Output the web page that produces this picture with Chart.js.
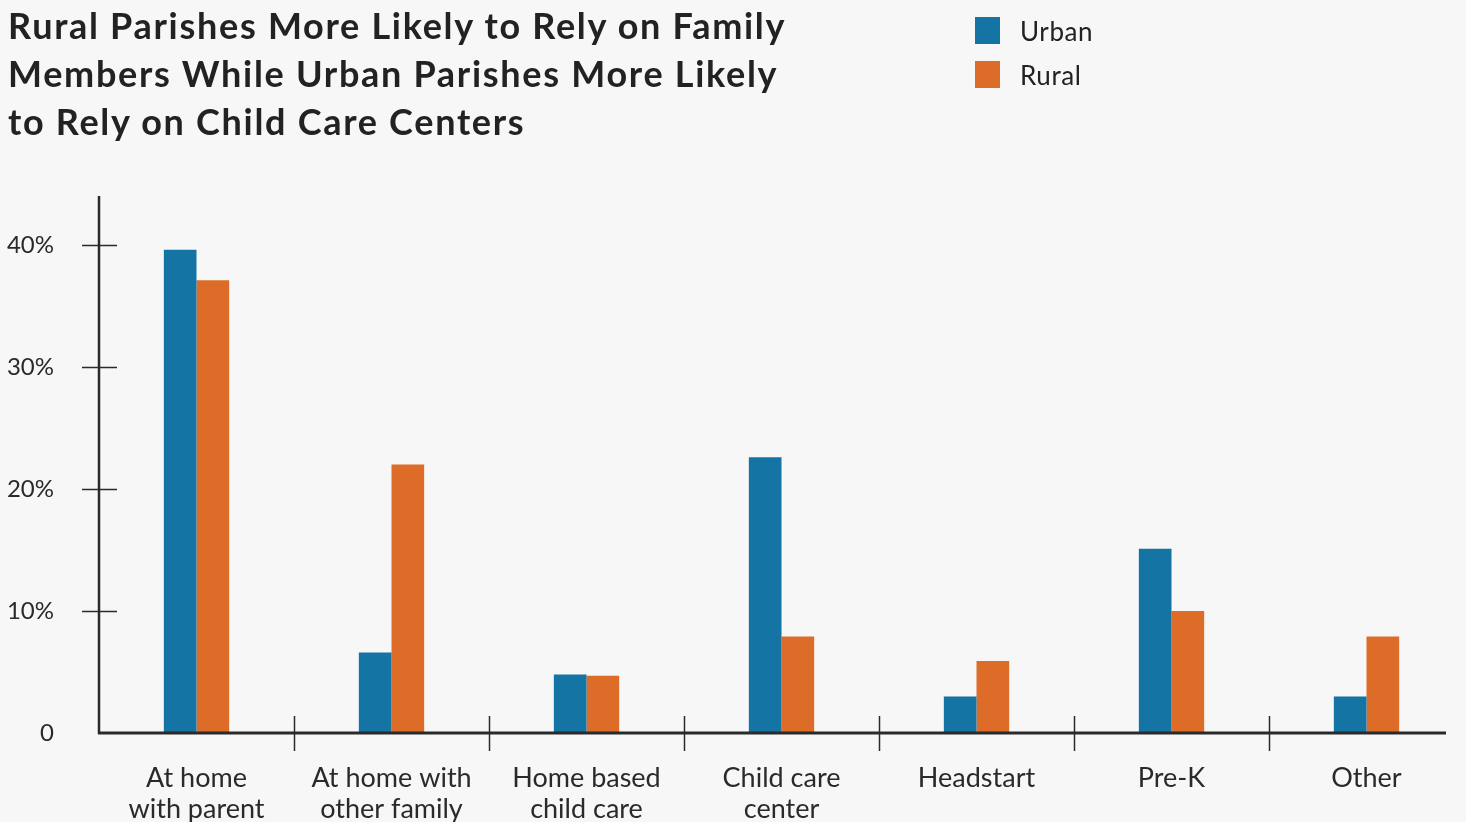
<!DOCTYPE html>
<html>
<head>
<meta charset="utf-8">
<script src="https://cdn.jsdelivr.net/npm/chart.js@4.4.1/dist/chart.umd.min.js"></script>
<style>
  html, body { margin:0; padding:0; background:#f7f7f7; width:1466px; height:822px; overflow:hidden; }
  #wrap { position:relative; width:1466px; height:822px; overflow:hidden; }
  #title { position:absolute; left:8px; top:1px; font-family:Lato, sans-serif; font-weight:700; font-size:36px; letter-spacing:1.7px; line-height:48px; color:#222; white-space:nowrap; }
  #legend { position:absolute; left:975px; top:17px; font-family:Lato, sans-serif; font-size:26px; letter-spacing:0.6px; color:#222; }
  .li { display:flex; align-items:center; height:27px; margin-bottom:17px; }
  .sw { width:25px; height:27px; margin-right:20px; }
  canvas { position:absolute; left:0; top:0; }
</style>
</head>
<body>
<div id="wrap">
  <canvas id="c" width="1466" height="822"></canvas>
  <div id="title">Rural Parishes More Likely to Rely on Family<br>Members While Urban Parishes More Likely<br>to Rely on Child Care Centers</div>
  <div id="legend"></div>
</div>
<script>
const categories = [
  ["At home", "with parent"],
  ["At home with", "other family"],
  ["Home based", "child care"],
  ["Child care", "center"],
  ["Headstart"],
  ["Pre-K"],
  ["Other"]
];
const urbanValues = [39.6, 6.6, 4.8, 22.6, 3.0, 15.1, 3.0];
const ruralValues = [37.1, 22.0, 4.7, 7.9, 5.9, 10.0, 7.9];
const seriesNames = ["Urban", "Rural"];
const seriesColors = ["#1474a3", "#dc6c28"];
const yTicks = [0, 10, 20, 30, 40];
const yMax = 44;

const legendEl = document.getElementById('legend');
seriesNames.forEach((n, i) => {
  const d = document.createElement('div'); d.className = 'li';
  d.innerHTML = '<span class="sw" style="background:' + seriesColors[i] + '"></span><span>' + n + '</span>';
  legendEl.appendChild(d);
});

const axisPlugin = {
  id: 'axisPlugin',
  afterDraw(chart) {
    const ctx = chart.ctx, x = chart.scales.x, y = chart.scales.y;
    const y0 = y.getPixelForValue(0);
    const xl = x.left;
    ctx.save();
    ctx.strokeStyle = '#2a2a2a';
    ctx.lineWidth = 2.5;
    ctx.beginPath(); ctx.moveTo(xl, y.getPixelForValue(yMax)); ctx.lineTo(xl, y0 + 1); ctx.stroke();
    ctx.lineWidth = 1.5;
    yTicks.forEach(v => {
      if (v === 0) return;
      const py = Math.round(y.getPixelForValue(v)) + 0.5;
      ctx.beginPath(); ctx.moveTo(xl - 17, py); ctx.lineTo(xl + 18, py); ctx.stroke();
    });
    ctx.lineWidth = 3;
    ctx.beginPath(); ctx.moveTo(xl - 1, y0); ctx.lineTo(chart.width - 20, y0); ctx.stroke();
    ctx.lineWidth = 1.5;
    for (let i = 1; i < categories.length; i++) {
      const px = Math.round((x.getPixelForValue(i - 1) + x.getPixelForValue(i)) / 2) + 0.5;
      ctx.beginPath(); ctx.moveTo(px, y0 - 17); ctx.lineTo(px, y0 + 18); ctx.stroke();
    }
    ctx.restore();
  }
};

new Chart(document.getElementById('c'), {
  type: 'bar',
  data: {
    labels: categories,
    datasets: [
      { label: seriesNames[0], data: urbanValues, backgroundColor: seriesColors[0] },
      { label: seriesNames[1], data: ruralValues, backgroundColor: seriesColors[1] }
    ]
  },
  options: {
    responsive: false,
    animation: false,
    events: [],
    layout: { padding: { top: 196, left: 0, right: 2, bottom: 0 } },
    datasets: { bar: { categoryPercentage: 0.335, barPercentage: 1.0, borderWidth: 0 } },
    plugins: { legend: { display: false }, tooltip: { enabled: false }, title: { display: false } },
    scales: {
      x: {
        grid: { display: false, drawTicks: false },
        border: { display: false },
        ticks: { color: '#2a2a2a', font: { family: 'Lato', size: 27, lineHeight: 1.15 }, padding: 30, maxRotation: 0, autoSkip: false },
        afterFit(s) { s.height = 89; }
      },
      y: {
        min: 0, max: yMax,
        grid: { display: false, drawTicks: false },
        border: { display: false },
        afterBuildTicks(s) { s.ticks = yTicks.map(v => ({ value: v })); },
        ticks: {
          color: '#2a2a2a', font: { family: 'Lato', size: 24 }, padding: 45,
          callback: v => v === 0 ? '0' : v + '%'
        },
        afterFit(s) { s.width = 99; }
      }
    }
  },
  plugins: [axisPlugin]
});
</script>
</body>
</html>
